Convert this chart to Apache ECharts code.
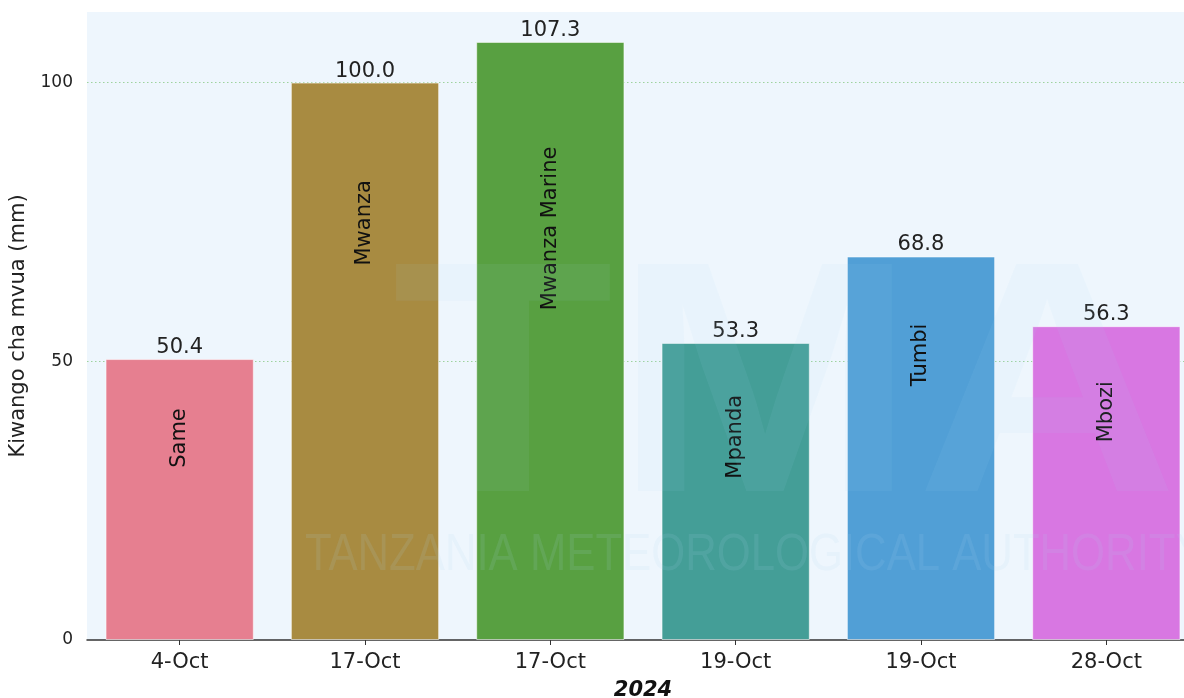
<!DOCTYPE html>
<html>
<head>
<meta charset="utf-8">
<script src="https://cdn.jsdelivr.net/npm/echarts@6/dist/echarts.min.js"></script>
<style>html,body{margin:0;padding:0;background:#fff;}#chart{width:1184px;height:698px;}</style>
</head>
<body>
<div id="chart"></div>
<script>
const stations = ['Same', 'Mwanza', 'Mwanza Marine', 'Mpanda', 'Tumbi', 'Mbozi'];
const dates = ['4-Oct', '17-Oct', '17-Oct', '19-Oct', '19-Oct', '28-Oct'];
const rainfall = [50.4, 100.0, 107.3, 53.3, 68.8, 56.3];
const barColors = ['#e67f90', '#a88b41', '#58a041', '#449e97', '#519fd6', '#d877e2'];
const yTicks = [0, 50, 100];
const yearLabel = '2024';
const yTitle = 'Kiwango cha mvua (mm)';

const FONT = 'DejaVu Sans';
const yMax = Math.max(...rainfall) * 1.05;

const chart = echarts.init(document.getElementById('chart'), null, {renderer: 'canvas'});
chart.setOption({
  animation: false,
  textStyle: {fontFamily: FONT},
  grid: {
    left: 87, right: -15, top: 12, bottom: 58,
    show: true, backgroundColor: '#eef6fd', borderWidth: 0,
    containLabel: false, outerBoundsMode: 'none'
  },
  xAxis: {
    type: 'category',
    data: stations,
    name: yearLabel,
    nameLocation: 'middle',
    nameGap: 40,
    nameTextStyle: {fontFamily: FONT, fontSize: 21, fontWeight: 'bold', fontStyle: 'italic', color: '#111'},
    axisLine: {show: true, lineStyle: {color: '#333', width: 1.5}},
    axisTick: {show: true, alignWithLabel: true, length: 5, lineStyle: {color: '#333', width: 1}},
    axisLabel: {
      fontFamily: FONT, fontSize: 21, color: '#222', margin: 12,
      formatter: (v, i) => dates[i]
    },
    splitLine: {show: false}
  },
  yAxis: {
    type: 'value',
    min: 0,
    max: yMax,
    interval: 50,
    name: yTitle,
    nameLocation: 'middle',
    nameGap: 58,
    nameTextStyle: {fontFamily: FONT, fontSize: 21, color: '#222'},
    axisLine: {show: false},
    axisTick: {show: false},
    axisLabel: {
      fontFamily: FONT, fontSize: 17, color: '#222', margin: 14,
      showMaxLabel: false,
      formatter: v => (yTicks.indexOf(v) >= 0 ? String(v) : '')
    },
    splitLine: {
      show: true, showMinLine: false, showMaxLine: false,
      lineStyle: {color: '#9ed39e', width: 1, type: [1.5, 2.5]}
    }
  },
  series: [
    {
      type: 'bar',
      barWidth: '80%',
      data: rainfall.map((v, i) => ({value: v, itemStyle: {color: barColors[i]}})),
      itemStyle: {borderColor: 'rgba(255,255,255,0.55)', borderWidth: 1},
      label: {
        show: true, position: 'top', distance: 1,
        fontFamily: FONT, fontSize: 21, color: '#222',
        formatter: p => p.value.toFixed(1)
      },
      z: 2
    },
    {
      type: 'bar',
      barWidth: '80%',
      barGap: '-100%',
      data: rainfall,
      itemStyle: {color: 'rgba(0,0,0,0)'},
      label: {
        show: true,
        position: ['50%', '17.5%'],
        rotate: 90,
        align: 'right',
        verticalAlign: 'middle',
        fontFamily: FONT, fontSize: 21, color: '#111',
        formatter: p => stations[p.dataIndex]
      },
      silent: true,
      z: 3
    }
  ],
  graphic: [
    {
      type: 'text', z: 100, silent: true,
      x: 392, y: 565, scaleX: 1.1,
      style: {
        text: 'TMA', font: 'bold 330px "Liberation Sans"',
        fill: '#a9d3f2', opacity: 0.08, verticalAlign: 'bottom'
      }
    },
    {
      type: 'text', z: 100, silent: true,
      x: 305, y: 582, scaleX: 0.84,
      style: {
        text: 'TANZANIA METEOROLOGICAL AUTHORITY', font: '52px "Liberation Sans"',
        fill: '#a9d3f2', opacity: 0.12, verticalAlign: 'bottom'
      }
    }
  ]
});
</script>
</body>
</html>
